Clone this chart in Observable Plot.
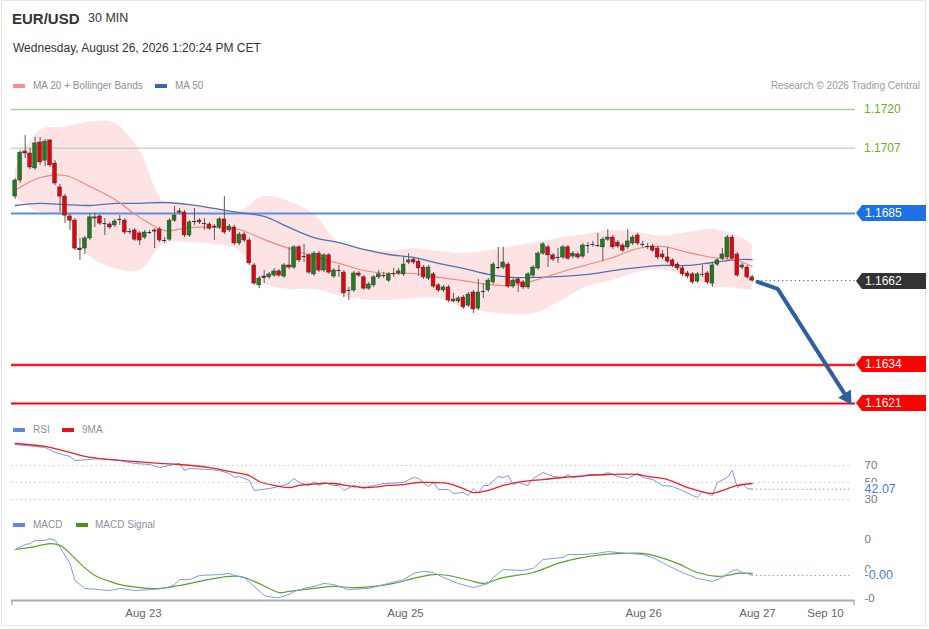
<!DOCTYPE html>
<html><head><meta charset="utf-8">
<script src="https://cdn.jsdelivr.net/npm/d3@7"></script>
<script src="https://cdn.jsdelivr.net/npm/@observablehq/plot@0.6"></script>
<style>
html,body{margin:0;padding:0;background:#fff;overflow:hidden;}
#wrap{position:relative;width:929px;height:629px;font-family:"Liberation Sans",Arial,sans-serif;color:#333;}
#frame{position:absolute;left:1px;top:0px;width:925px;height:626px;border:1px solid #e2e8ec;box-sizing:border-box;pointer-events:none;}
.t{position:absolute;white-space:nowrap;line-height:1;}
.sw{position:absolute;width:12px;height:4px;}
.plot{position:absolute;left:0;}
</style></head><body><div id="wrap">
<div id="frame"></div>
<div class="t" style="left:12px;top:11px;font-size:15px;font-weight:bold;color:#333">EUR/USD</div>
<div class="t" style="left:88px;top:12px;font-size:12.5px;color:#333">30 MIN</div>
<div class="t" style="left:13px;top:42px;font-size:12px;color:#333">Wednesday, August 26, 2026 1:20:24 PM CET</div>
<div class="sw" style="left:13px;top:84px;background:#ff8c8c"></div>
<div class="t" style="left:33px;top:81px;font-size:10px;color:#8a8f9a">MA 20 + Bollinger Bands</div>
<div class="sw" style="left:155px;top:84px;background:#3d64a8"></div>
<div class="t" style="left:175px;top:81px;font-size:10px;color:#8a8f9a">MA 50</div>
<div class="t" style="right:9px;top:81px;font-size:10px;color:#9a9a9a">Research © 2026 Trading Central</div>
<div class="sw" style="left:13px;top:428px;background:#5f86e6"></div>
<div class="t" style="left:33px;top:425px;font-size:10px;color:#8a8f9a">RSI</div>
<div class="sw" style="left:62px;top:428px;background:#ee1111"></div>
<div class="t" style="left:82px;top:425px;font-size:10px;color:#8a8f9a">9MA</div>
<div class="sw" style="left:13px;top:523px;background:#5f86e6"></div>
<div class="t" style="left:33px;top:520px;font-size:10px;color:#8a8f9a">MACD</div>
<div class="sw" style="left:76px;top:523px;background:#3f9a10"></div>
<div class="t" style="left:95px;top:520px;font-size:10px;color:#8a8f9a">MACD Signal</div>
<div id="price" class="plot" style="top:100px"></div>
<div id="rsi" class="plot" style="top:438px"></div>
<div id="macd" class="plot" style="top:532px"></div>
</div>
<script>
// ---------- DATA ----------
const candleOpen = [1.16907,1.16961,1.17059,1.17052,1.17002,1.17089,1.17028,1.17096,1.17018,1.16938,1.16907,1.16840,1.16826,1.16732,1.16732,1.16766,1.16833,1.16840,1.16816,1.16813,1.16810,1.16830,1.16826,1.16789,1.16793,1.16783,1.16769,1.16786,1.16793,1.16796,1.16759,1.16762,1.16826,1.16857,1.16853,1.16776,1.16823,1.16826,1.16816,1.16813,1.16806,1.16803,1.16830,1.16793,1.16803,1.16749,1.16779,1.16759,1.16675,1.16608,1.16638,1.16635,1.16641,1.16655,1.16638,1.16675,1.16668,1.16736,1.16705,1.16709,1.16645,1.16715,1.16658,1.16709,1.16638,1.16658,1.16651,1.16591,1.16591,1.16648,1.16635,1.16597,1.16608,1.16635,1.16641,1.16624,1.16648,1.16648,1.16645,1.16685,1.16695,1.16688,1.16668,1.16631,1.16645,1.16608,1.16591,1.16601,1.16560,1.16554,1.16567,1.16540,1.16584,1.16530,1.16587,1.16591,1.16618,1.16668,1.16668,1.16678,1.16604,1.16628,1.16618,1.16601,1.16641,1.16665,1.16715,1.16736,1.16709,1.16702,1.16702,1.16736,1.16705,1.16712,1.16705,1.16742,1.16746,1.16742,1.16736,1.16762,1.16769,1.16752,1.16742,1.16736,1.16749,1.16776,1.16746,1.16739,1.16739,1.16732,1.16712,1.16702,1.16692,1.16678,1.16665,1.16648,1.16645,1.16621,1.16645,1.16648,1.16614,1.16678,1.16698,1.16702,1.16769,1.16712,1.16668,1.16668,1.16635];
const candleHigh = [1.16968,1.17062,1.17113,1.17069,1.17106,1.17106,1.17099,1.17099,1.17028,1.16948,1.16914,1.16847,1.16833,1.16766,1.16773,1.16850,1.16850,1.16847,1.16833,1.16820,1.16830,1.16843,1.16833,1.16799,1.16799,1.16789,1.16793,1.16793,1.16799,1.16803,1.16769,1.16833,1.16874,1.16867,1.16860,1.16826,1.16867,1.16833,1.16833,1.16820,1.16813,1.16837,1.16907,1.16813,1.16810,1.16786,1.16786,1.16766,1.16682,1.16638,1.16658,1.16651,1.16665,1.16661,1.16682,1.16736,1.16742,1.16742,1.16746,1.16715,1.16722,1.16722,1.16715,1.16715,1.16665,1.16675,1.16658,1.16601,1.16655,1.16655,1.16641,1.16618,1.16641,1.16658,1.16651,1.16651,1.16665,1.16665,1.16702,1.16715,1.16702,1.16695,1.16675,1.16675,1.16651,1.16614,1.16608,1.16608,1.16581,1.16571,1.16574,1.16584,1.16591,1.16628,1.16614,1.16631,1.16685,1.16736,1.16736,1.16685,1.16631,1.16635,1.16624,1.16651,1.16675,1.16722,1.16752,1.16742,1.16715,1.16732,1.16742,1.16742,1.16722,1.16719,1.16749,1.16752,1.16756,1.16783,1.16769,1.16796,1.16776,1.16759,1.16749,1.16796,1.16776,1.16783,1.16756,1.16749,1.16746,1.16739,1.16725,1.16736,1.16698,1.16685,1.16672,1.16655,1.16651,1.16651,1.16675,1.16655,1.16682,1.16698,1.16732,1.16776,1.16776,1.16719,1.16682,1.16675,1.16641];
const candleLow = [1.16897,1.16951,1.17035,1.16998,1.16995,1.17012,1.17008,1.17005,1.16944,1.16853,1.16816,1.16793,1.16725,1.16692,1.16712,1.16759,1.16803,1.16810,1.16776,1.16796,1.16803,1.16810,1.16779,1.16779,1.16756,1.16742,1.16762,1.16779,1.16732,1.16752,1.16749,1.16756,1.16820,1.16847,1.16769,1.16769,1.16810,1.16813,1.16793,1.16793,1.16759,1.16796,1.16779,1.16786,1.16742,1.16742,1.16752,1.16675,1.16608,1.16597,1.16614,1.16628,1.16635,1.16635,1.16631,1.16661,1.16661,1.16685,1.16685,1.16645,1.16638,1.16651,1.16651,1.16645,1.16631,1.16635,1.16567,1.16557,1.16584,1.16635,1.16591,1.16591,1.16601,1.16628,1.16631,1.16618,1.16635,1.16641,1.16638,1.16678,1.16678,1.16638,1.16628,1.16624,1.16597,1.16584,1.16584,1.16550,1.16550,1.16547,1.16527,1.16534,1.16513,1.16523,1.16564,1.16584,1.16611,1.16661,1.16661,1.16597,1.16597,1.16584,1.16594,1.16594,1.16635,1.16658,1.16709,1.16668,1.16688,1.16682,1.16695,1.16692,1.16698,1.16695,1.16698,1.16715,1.16736,1.16736,1.16688,1.16756,1.16729,1.16732,1.16719,1.16729,1.16742,1.16742,1.16736,1.16729,1.16719,1.16695,1.16695,1.16682,1.16668,1.16658,1.16638,1.16631,1.16611,1.16614,1.16635,1.16611,1.16601,1.16672,1.16692,1.16695,1.16692,1.16635,1.16661,1.16628,1.16618];
const candleClose = [1.16961,1.17055,1.17052,1.17005,1.17086,1.17022,1.17092,1.17012,1.16951,1.16907,1.16843,1.16826,1.16732,1.16729,1.16766,1.16837,1.16837,1.16816,1.16816,1.16803,1.16823,1.16830,1.16786,1.16789,1.16762,1.16759,1.16786,1.16786,1.16789,1.16759,1.16759,1.16826,1.16843,1.16853,1.16776,1.16820,1.16823,1.16820,1.16816,1.16799,1.16803,1.16830,1.16786,1.16806,1.16749,1.16779,1.16759,1.16682,1.16614,1.16631,1.16635,1.16645,1.16655,1.16641,1.16675,1.16668,1.16736,1.16692,1.16705,1.16651,1.16715,1.16658,1.16709,1.16651,1.16658,1.16658,1.16581,1.16591,1.16648,1.16641,1.16597,1.16611,1.16635,1.16645,1.16641,1.16645,1.16648,1.16655,1.16678,1.16692,1.16685,1.16665,1.16635,1.16668,1.16604,1.16591,1.16601,1.16557,1.16554,1.16564,1.16534,1.16577,1.16527,1.16584,1.16587,1.16624,1.16678,1.16668,1.16685,1.16604,1.16624,1.16614,1.16601,1.16645,1.16668,1.16715,1.16746,1.16709,1.16695,1.16702,1.16736,1.16698,1.16715,1.16702,1.16742,1.16742,1.16746,1.16742,1.16762,1.16769,1.16736,1.16739,1.16725,1.16756,1.16769,1.16749,1.16746,1.16739,1.16725,1.16702,1.16702,1.16688,1.16675,1.16665,1.16645,1.16638,1.16618,1.16645,1.16645,1.16618,1.16675,1.16692,1.16712,1.16769,1.16698,1.16641,1.16675,1.16635,1.16624];

const maIdx   = [0,5,10,15,20,25,30,35,40,45,50,55,60,65,70,75,80,85,90,95,100,105,110,115,120,125,130,135,140,145,148];
const ma20    = [1.16928,1.16971,1.16978,1.16941,1.16897,1.16837,1.16793,1.16803,1.16803,1.16796,1.16762,1.16732,1.16705,1.16682,1.16658,1.16648,1.16648,1.16635,1.16624,1.16611,1.16608,1.16628,1.16655,1.16678,1.16702,1.16732,1.16739,1.16719,1.16702,1.16692,1.16672];
const ma50    = [1.16877,1.16884,1.16880,1.16877,1.16884,1.16884,1.16887,1.16880,1.16867,1.16853,1.16840,1.16803,1.16769,1.16752,1.16729,1.16712,1.16702,1.16682,1.16665,1.16645,1.16635,1.16635,1.16638,1.16645,1.16658,1.16668,1.16675,1.16675,1.16685,1.16695,1.16695];
const bbUpper = [1.16995,1.17130,1.17140,1.17157,1.17153,1.17062,1.16887,1.16880,1.16867,1.16857,1.16907,1.16890,1.16847,1.16752,1.16729,1.16722,1.16732,1.16722,1.16715,1.16725,1.16739,1.16752,1.16769,1.16779,1.16793,1.16786,1.16773,1.16786,1.16796,1.16773,1.16746];
const bbLower = [1.16904,1.16853,1.16840,1.16705,1.16665,1.16658,1.16749,1.16752,1.16746,1.16725,1.16614,1.16594,1.16594,1.16574,1.16560,1.16557,1.16564,1.16564,1.16533,1.16517,1.16510,1.16517,1.16560,1.16604,1.16624,1.16651,1.16661,1.16638,1.16604,1.16597,1.16591];

const levelPrice = [1.1720, 1.1707, 1.1685, 1.1662, 1.1634, 1.1621];
const levelText  = ["1.1720","1.1707","1.1685","1.1662","1.1634","1.1621"];

const arrowIdx   = [149.06, 153.1, 167.0];
const arrowPrice = [1.1662, 1.16596, 1.16231];

const rsiIdx = [0,4,6,8,11,12,15,17,21,24,27,29,33,34,35,39,41,43,44,45,47,48,51,53,55,56,57,59,60,61,62,64,65,66,68,70,71,74,78,80,81,83,84,85,87,88,90,91,92,93,94,95,97,98,99,100,101,103,104,106,108,110,111,112,114,115,118,119,121,123,125,126,128,130,132,134,136,137,138,140,141,143,144,145,146,147,148];
const rsiValues = [94.7,92.4,91.2,85.3,80.6,75.9,77.1,78.2,75.9,72.4,71.2,67.6,72.4,64.1,66.5,65.3,64.1,60.6,55.9,57.1,52.4,40.6,42.9,45.3,48.8,54.7,50.0,46.5,51.2,46.5,50.0,46.5,46.5,40.6,46.5,42.9,45.3,48.8,50.0,55.9,54.7,45.3,50.0,41.8,41.8,37.1,38.2,34.7,42.9,37.1,46.5,46.5,57.1,55.9,58.2,47.6,50.0,46.5,54.7,61.8,57.1,55.9,59.4,55.9,57.1,59.4,59.4,61.8,57.1,54.7,60.6,55.9,53.5,46.5,45.3,40.6,34.7,32.4,39.4,34.7,50.0,55.9,64.1,44.1,48.8,42.9,42.07];
const rsiMaIdx = [0,6,11,14,17,24,29,33,39,44,47,49,52,55,57,62,64,68,71,75,78,81,84,87,90,92,95,98,102,106,110,115,119,125,127,131,135,140,142,145,148];
const rsiMaValues = [95.9,92.4,85.3,80.6,78.2,74.7,72.4,71.2,67.6,61.8,58.2,51.2,46.5,44.1,46.5,48.8,48.8,45.3,44.1,46.5,47.6,50,50,48.8,42.9,38.2,40.6,46.5,51.2,53.5,55.9,58.2,59.4,59.4,57.1,53.5,44.1,37.1,40.6,46.5,48.8];
const rsiLevels = [70, 50, 30];

const macdIdx = [0,2,3,4,6,7,8,9,11,12,14,17,19,21,24,27,30,32,33,35,37,41,43,44,46,48,50,52,53,55,56,58,60,62,64,67,70,71,74,78,80,82,84,86,89,91,92,95,96,98,102,104,106,110,111,114,117,119,123,126,128,131,134,137,140,142,144,145,146,147,148];
const macdValues = [0.00066,0.00083,0.00086,0.00097,0.00097,0.00103,0.00097,0.00073,0.00019,-0.00039,-0.00066,-0.00070,-0.00073,-0.00066,-0.00073,-0.00070,-0.00066,-0.00053,-0.00036,-0.00036,-0.00022,-0.00019,-0.00015,-0.00022,-0.00029,-0.00059,-0.00090,-0.00097,-0.00097,-0.00086,-0.00076,-0.00066,-0.00059,-0.00049,-0.00053,-0.00070,-0.00066,-0.00066,-0.00053,-0.00036,-0.00015,-0.00008,-0.00012,-0.00029,-0.00049,-0.00059,-0.00063,-0.00049,-0.00029,-0.00002,-0.00005,0.00002,0.00032,0.00039,0.00049,0.00049,0.00053,0.00059,0.00053,0.00049,0.00039,0.00012,-0.00012,-0.00032,-0.00042,-0.00029,-0.00005,-0.00002,-0.00012,-0.00015,-0.00022];
const signalIdx = [0,4,7,9,11,13,16,19,21,25,29,33,37,41,45,48,51,53,55,60,64,68,72,76,80,84,87,92,94,98,104,109,113,118,122,126,129,133,137,141,143,145,148];
const signalValues = [0.00066,0.00076,0.00086,0.00080,0.00053,0.00019,-0.00022,-0.00042,-0.00053,-0.00063,-0.00066,-0.00056,-0.00042,-0.00029,-0.00025,-0.00042,-0.00066,-0.00080,-0.00076,-0.00066,-0.00059,-0.00063,-0.00059,-0.00049,-0.00032,-0.00019,-0.00022,-0.00042,-0.00049,-0.00029,-0.00012,0.00019,0.00036,0.00049,0.00053,0.00053,0.00042,0.00019,-0.00012,-0.00025,-0.00022,-0.00015,-0.00015];
const macdTicks = [0.001, 0, -0.001];
const macdTickLabels = ["0", "0", "-0"];

const dateTickIdx = [25.76, 78.37, 126.2, 149.06, 162.7];
const dateTickLabels = ["Aug 23", "Aug 25", "Aug 26", "Aug 27", "Sep 10"];

// ---------- LAYOUT / STYLE ----------
const FONT = '"Liberation Sans", Arial, sans-serif';
const px2i = p => (p - 14.7) / 4.98;       // page pixel -> candle index (layout helper)
const X_DOMAIN = [px2i(0), px2i(929)];
const lineStart = px2i(11), lineEnd = px2i(855), gridEnd = px2i(852), labelX = px2i(864);
const base = {width: 929, marginTop: 0, marginBottom: 0, marginLeft: 0, marginRight: 0,
  style: {fontFamily: FONT, background: "transparent", overflow: "visible"}};
const levelStroke = ["#a9d18e", "#b2c6a4", "#5b8de6", null, "#ff1a1a", "#ff0000"];
const levelWidth  = [1.5, 1, 2, 0, 2.5, 2];
const levelBoxFill = [null, null, "#1f6fe8", "#333333", "#ff0000", "#ff0000"];
const GREEN = "#1f7d1f", RED = "#e8000b";

const candles = candleOpen.map((o, i) => ({i, o, h: candleHigh[i], l: candleLow[i], c: candleClose[i]}));
const band = maIdx.map((i, k) => ({i, hi: bbUpper[k], lo: bbLower[k]}));
const ma20T = maIdx.map((i, k) => ({i, v: ma20[k]}));
const ma50T = maIdx.map((i, k) => ({i, v: ma50[k]}));
const levels = levelPrice.map((p, k) => ({p, k, text: levelText[k]}));
const arrowT = arrowIdx.map((i, k) => ({i, p: arrowPrice[k]}));
const last = candles[candles.length - 1];

function levelLabels(index, scales) {
  const y = scales.y;
  const g = d3.create("svg:g").attr("font-family", FONT).attr("font-size", 12).attr("text-anchor", "start");
  levels.forEach(d => {
    const yy = Math.round(y(d.p));
    const fill = levelBoxFill[d.k];
    if (fill) {
      g.append("path")
        .attr("d", `M856,${yy} L862,${yy - 8} L926,${yy - 8} L926,${yy + 8} L862,${yy + 8} Z`)
        .attr("fill", fill);
      g.append("text").attr("x", 865).attr("y", yy).attr("dy", "0.36em").attr("fill", "#fff").text(d.text);
    } else {
      g.append("text").attr("x", 864).attr("y", yy).attr("dy", "0.36em").attr("fill", "#6fae1a").text(d.text);
    }
  });
  return g.node();
}

const pricePlot = Plot.plot({
  ...base, height: 320,
  x: {domain: X_DOMAIN, axis: null},
  y: {domain: [1.16153, 1.172305], axis: null},
  marks: [
    Plot.areaY(band, {x: "i", y1: "lo", y2: "hi", fill: "#fde3e3", curve: "catmull-rom"}),
    Plot.ruleY(levels.filter(d => levelStroke[d.k]), {y: "p", x1: lineStart, x2: lineEnd,
      stroke: d => levelStroke[d.k], strokeWidth: d => levelWidth[d.k]}),
    Plot.line(ma50T, {x: "i", y: "v", stroke: "#4e73b5", strokeWidth: 1.3, curve: "catmull-rom"}),
    Plot.line(ma20T, {x: "i", y: "v", stroke: "#f4857d", strokeWidth: 1.1, curve: "catmull-rom"}),
    Plot.ruleX(candles, {x: "i", y1: "l", y2: "h", stroke: "#5a5a5a", strokeWidth: 1}),
    Plot.rect(candles, {x1: d => d.i - 0.38, x2: d => d.i + 0.38, y1: "o", y2: "c",
      fill: d => d.c >= d.o ? GREEN : RED, stroke: "#333", strokeWidth: 0.5}),
    Plot.ruleY(candles.filter(d => Math.abs(d.c - d.o) < 0.00003), {y: "c", x1: d => d.i - 0.4, x2: d => d.i + 0.4, stroke: "#333", strokeWidth: 1}),
    Plot.ruleY([last], {y: "c", x1: px2i(757), x2: lineEnd, stroke: "#555", strokeDasharray: "1.2,3"}),
    Plot.line(arrowT, {x: "i", y: "p", stroke: "#2f5f9f", strokeWidth: 4, strokeLinejoin: "round", strokeLinecap: "round"}),
    Plot.dot(arrowT.slice(-1), {x: "i", y: "p", symbol: "triangle", r: 5.6, fill: "#2f5f9f", rotate: 147.4}),
    levelLabels
  ]
});
document.getElementById("price").append(pricePlot);

// RSI
const rsiT = rsiIdx.map((i, k) => ({i, v: rsiValues[k]}));
const rsiMaT = rsiMaIdx.map((i, k) => ({i, v: rsiMaValues[k]}));
const rsiLast = rsiT[rsiT.length - 1];
const rsiPlot = Plot.plot({
  ...base, height: 67,
  x: {domain: X_DOMAIN, axis: null},
  y: {domain: [22.94, 101.76], axis: null},
  marks: [
    Plot.ruleY(rsiLevels, {x1: lineStart, x2: gridEnd, stroke: "#bdbdbd", strokeDasharray: "1.2,3.5"}),
    Plot.text(rsiLevels, {x: labelX, y: d => d, text: d => String(d), textAnchor: "start", fill: "#777", fontSize: 11.5}),
    Plot.line(rsiT, {x: "i", y: "v", stroke: "#7898e6", strokeWidth: 1}),
    Plot.line(rsiMaT, {x: "i", y: "v", stroke: "#f01e1e", strokeWidth: 1.3, curve: "catmull-rom"}),
    Plot.ruleY([rsiLast], {y: "v", x1: "i", x2: gridEnd, stroke: "#6a8de8", strokeDasharray: "1.2,3"}),
    Plot.text([rsiLast], {x: labelX, y: "v", text: d => d.v.toFixed(2), textAnchor: "start", fill: "#4b7be5", stroke: "white", strokeWidth: 4, fontSize: 12.5})
  ]
});
document.getElementById("rsi").append(rsiPlot);

// MACD
const macdT = macdIdx.map((i, k) => ({i, v: macdValues[k]}));
const sigT = signalIdx.map((i, k) => ({i, v: signalValues[k]}));
const macdLast = macdT[macdT.length - 1];
const yMin = -0.001068;
const ticksT = dateTickIdx.map((i, k) => ({i, label: dateTickLabels[k]}));
const macdPlot = Plot.plot({
  ...base, height: 93, marginBottom: 25,
  x: {domain: X_DOMAIN, axis: null},
  y: {domain: [yMin, 0.001237], axis: null},
  marks: [
    Plot.text(macdTicks, {x: labelX, y: d => d, text: (d, k) => macdTickLabels[k], textAnchor: "start", fill: "#777", fontSize: 11.5}),
    Plot.line(sigT, {x: "i", y: "v", stroke: "#5aa22c", strokeWidth: 1.2, curve: "catmull-rom"}),
    Plot.line(macdT, {x: "i", y: "v", stroke: "#7c9ce8", strokeWidth: 1}),
    Plot.ruleY([macdLast], {y: "v", x1: "i", x2: gridEnd, stroke: "#6a8de8", strokeDasharray: "1.2,3"}),
    Plot.text([macdLast], {x: labelX, y: "v", text: d => d.v.toFixed(2), textAnchor: "start", fill: "#4b7be5", stroke: "white", strokeWidth: 4, fontSize: 12.5}),
    Plot.ruleY([yMin], {x1: px2i(11), x2: px2i(854), stroke: "#acacac", strokeWidth: 2}),
    Plot.ruleX([px2i(11.5), px2i(853.5)], {y1: yMin, y2: yMin - 0.00016, stroke: "#acacac", strokeWidth: 1.5}),
    Plot.text(ticksT, {x: "i", y: yMin, text: "label", dy: 13, fill: "#666", fontSize: 11.5})
  ]
});
document.getElementById("macd").append(macdPlot);
</script>
</body></html>
